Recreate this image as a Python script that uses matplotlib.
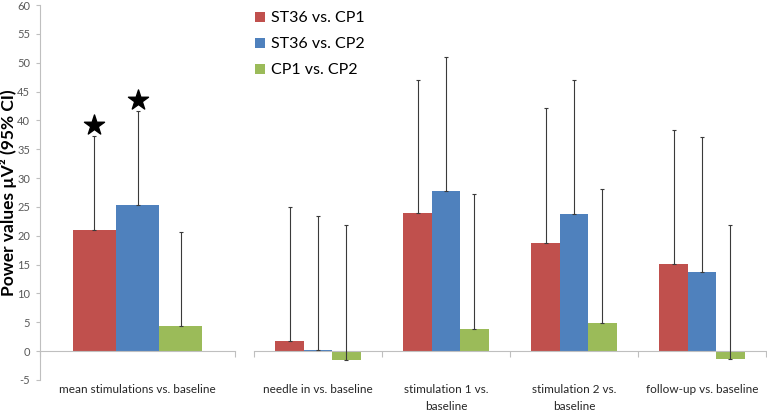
import matplotlib
matplotlib.use("Agg")
import matplotlib.pyplot as plt
import numpy as np

plt.rcParams['font.family'] = ['Lato', 'DejaVu Sans']
plt.rcParams['axes.unicode_minus'] = False

series = ["ST36 vs. CP1", "ST36 vs. CP2", "CP1 vs. CP2"]
colors = ["#C0504D", "#4F81BD", "#9BBB59"]

# left panel: one category
cat_left = ["mean stimulations vs. baseline"]
val_left = [[21.0], [25.4], [4.3]]
upper_left = [[37.3], [41.7], [20.6]]
star_y = [39.2, 43.6]   # stars above red and blue bars

# right panel: four categories
cat_right = ["needle in vs. baseline", "stimulation 1 vs.\nbaseline",
             "stimulation 2 vs.\nbaseline", "follow-up vs. baseline"]
val_right = [[1.7, 23.9, 18.7, 15.1],
             [0.2, 27.7, 23.8, 13.8],
             [-1.5, 3.9, 4.9, -1.4]]
upper_right = [[25.0, 47.0, 42.1, 38.4],
               [23.5, 51.0, 47.0, 37.1],
               [21.8, 27.2, 28.1, 21.8]]

W, H = 767, 417
fig = plt.figure(figsize=(W / 100, H / 100), dpi=100)
bot = 1 - 380 / H
hgt = (380 - 5) / H
ax1 = fig.add_axes([40 / W, bot, 195 / W, hgt])
ax2 = fig.add_axes([254 / W, bot, 512 / W, hgt])

bw = 0.222
grey = "#BFBFBF"

def draw(ax, cats, vals, uppers):
    n = len(cats)
    x = np.arange(n)
    for i in range(3):
        xs = x + (i - 1) * bw
        v = np.array(vals[i])
        u = np.array(uppers[i])
        ax.bar(xs, v, bw, color=colors[i], label=series[i], zorder=2)
        ax.errorbar(xs, v, yerr=[np.zeros(n), u - v], fmt="none",
                    ecolor="#3a3a3a", elinewidth=0.8, capsize=1.5,
                    capthick=0.8, zorder=3)
    ax.set_xlim(-0.5, n - 0.5)
    ax.set_ylim(-5, 60)
    for s in ["top", "right", "left"]:
        ax.spines[s].set_visible(False)
    ax.spines["bottom"].set_position(("data", 0))
    ax.spines["bottom"].set_color(grey)
    ax.set_xticks(np.arange(n + 1) - 0.5)
    ax.set_xticklabels([])
    ax.tick_params(axis="x", which="major", direction="out", length=4,
                   color=grey)
    ax.set_xticks(x, minor=True)
    ax.set_xticklabels(cats, minor=True, fontsize=8.5, color="#262626",
                       linespacing=1.6, va="top")
    ax.tick_params(axis="x", which="minor", length=0, pad=24)

draw(ax1, cat_left, val_left, upper_left)
draw(ax2, cat_right, val_right, upper_right)

ax1.scatter([-bw, 0], star_y, marker="*", s=230, color="black", zorder=4)

ax1.spines["left"].set_visible(True)
ax1.spines["left"].set_color(grey)
ax1.set_yticks(np.arange(-5, 61, 5))
ax1.tick_params(axis="y", direction="out", length=3, color=grey,
                labelsize=8, labelcolor="#595959", pad=4)
ax1.set_ylabel("Power values µV² (95% CI)", fontsize=12.5, fontweight="bold",
               labelpad=0)
ax2.set_yticks([])

leg = ax2.legend(loc="upper left", bbox_to_anchor=(-0.01, 1.0),
                 frameon=False, fontsize=11.5, handlelength=0.6,
                 handleheight=0.6, handletextpad=0.4, labelspacing=0.75,
                 borderaxespad=0)

fig.savefig("out.png", dpi=100)
